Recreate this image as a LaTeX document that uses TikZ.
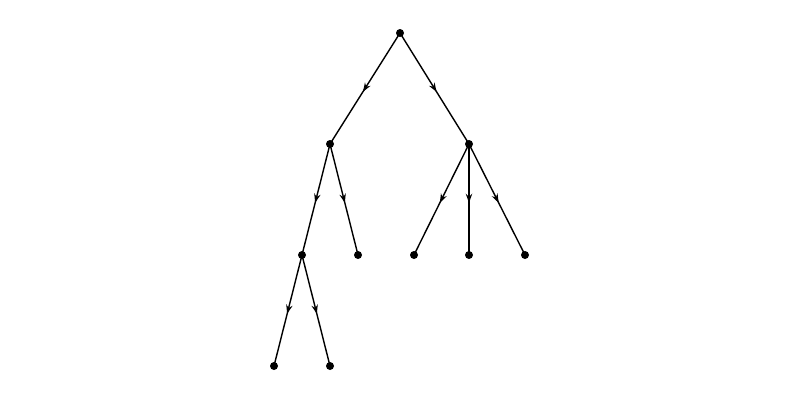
\documentclass[tikz,border=0pt]{standalone}
\usetikzlibrary{decorations.markings,arrows.meta}
\begin{document}
\begin{tikzpicture}[x=0.05cm,y=-0.05cm,
  dot/.style={circle,fill=black,inner sep=0pt,minimum size=0.4cm},
  edge/.style={line width=2pt,postaction={decorate},decoration={markings,
    mark=at position 0.53 with {\arrow{Stealth[length=0.45cm,width=0.32cm]}}}}]
\useasboundingbox (0,0) rectangle (800,400);
\node[dot] (r) at (400,33) {};
\node[dot] (a) at (330,144) {};
\node[dot] (b) at (469,144) {};
\node[dot] (a1) at (302,255) {};
\node[dot] (a2) at (358,255) {};
\node[dot] (b1) at (414,255) {};
\node[dot] (b2) at (469,255) {};
\node[dot] (b3) at (525,255) {};
\node[dot] (c1) at (274,366) {};
\node[dot] (c2) at (330,366) {};
\foreach \s/\t in {r/a,r/b,a/a1,a/a2,b/b1,b/b2,b/b3,a1/c1,a1/c2}
  \draw[edge] (\s.center) -- (\t.center);
\end{tikzpicture}
\end{document}
